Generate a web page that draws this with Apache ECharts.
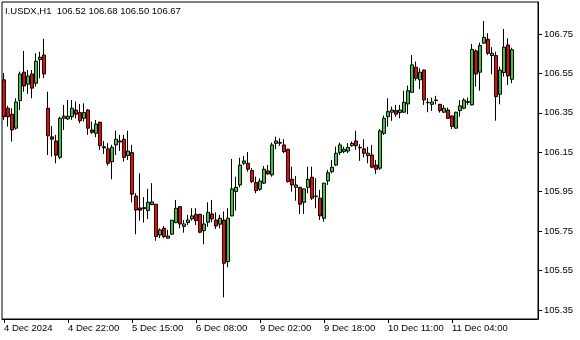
<!DOCTYPE html>
<html>
<head>
<meta charset="utf-8">
<script src="https://cdn.jsdelivr.net/npm/echarts@6/dist/echarts.min.js"></script>
<style>
html,body{margin:0;padding:0;background:#fff;}
#chart{width:580px;height:340px;}
</style>
</head>
<body>
<div id="chart"></div>
<script>
const symbolTitle = 'I.USDX,H1  106.52 106.68 106.50 106.67';
const lastPrice = 106.67;
const tickLabels = ['4 Dec 2024','4 Dec 22:00','5 Dec 15:00','6 Dec 08:00','9 Dec 02:00','9 Dec 18:00','10 Dec 11:00','11 Dec 04:00'];
const tickBars = [0,16,32,48,64,80,96,112];
const priceTicks = [105.35,105.55,105.75,105.95,106.15,106.35,106.55,106.75];
const totalSlots = 134;

const opens = [106.517,106.373,106.343,106.272,106.412,106.556,106.495,106.547,106.500,106.620,106.643,106.373,106.228,106.207,106.124,106.322,106.319,106.330,106.364,106.351,
106.322,106.364,106.263,106.246,106.302,106.178,106.167,106.102,106.187,106.207,106.216,106.133,106.148,105.928,105.867,105.869,105.854,105.884,105.886,105.730,
105.764,105.714,105.734,105.793,105.874,105.774,105.793,105.812,105.835,105.835,105.752,105.795,105.837,105.806,105.785,105.806,105.595,105.827,105.950,105.984,
106.094,106.094,106.057,105.996,105.962,105.993,106.055,106.035,106.195,106.199,106.187,106.165,106.013,105.972,105.972,105.896,105.972,106.023,105.928,105.917,
105.815,106.004,106.051,106.085,106.148,106.153,106.156,106.183,106.207,106.175,106.167,106.133,106.136,106.085,106.069,106.246,106.330,106.353,106.361,106.351,
106.353,106.395,106.454,106.581,106.517,106.567,106.403,106.393,106.412,106.393,106.353,106.364,106.334,106.272,106.361,106.373,106.403,106.390,106.664,106.556,
106.703,106.723,106.640,106.640,106.444,106.554,106.694,106.52];

const closes = [106.330,106.330,106.263,106.405,106.547,106.486,106.537,106.475,106.612,106.632,106.547,106.233,106.216,106.135,106.322,106.333,106.333,106.373,106.343,106.310,
106.351,106.272,106.251,106.293,106.183,106.172,106.094,106.175,106.216,106.202,106.124,106.156,105.937,105.857,105.856,105.864,105.896,105.898,105.722,105.756,
105.722,105.725,105.805,105.866,105.786,105.786,105.806,105.827,105.803,105.744,105.786,105.845,105.812,105.776,105.815,105.587,105.815,105.964,105.972,106.085,
106.106,106.064,106.001,105.955,106.004,106.064,106.040,106.187,106.207,106.196,106.153,106.001,105.984,105.984,105.886,105.964,106.013,105.917,105.925,105.827,
105.993,106.046,106.074,106.145,106.187,106.165,106.175,106.195,106.183,106.172,106.145,106.145,106.074,106.064,106.258,106.322,106.356,106.364,106.343,106.364,
106.403,106.462,106.593,106.525,106.556,106.415,106.401,106.405,106.415,106.361,106.373,106.322,106.280,106.353,106.385,106.415,106.407,106.672,106.547,106.691,
106.733,106.652,106.652,106.432,106.567,106.683,106.537,106.67];

const lows = [106.314,106.280,106.204,106.265,106.364,106.457,106.446,106.424,106.483,106.525,106.525,106.136,106.128,106.094,106.115,106.263,106.314,106.314,106.322,106.297,
106.305,106.238,106.243,106.226,106.162,106.141,106.082,106.013,106.136,106.156,106.102,106.111,105.896,105.734,105.803,105.793,105.811,105.882,105.701,105.714,
105.714,105.712,105.731,105.790,105.764,105.742,105.781,105.803,105.781,105.739,105.683,105.772,105.795,105.761,105.764,105.414,105.566,105.825,105.854,105.972,
106.085,106.052,105.993,105.942,105.954,105.989,106.035,106.026,106.165,106.182,106.145,105.996,105.950,105.904,105.837,105.837,105.942,105.908,105.866,105.806,
105.798,105.984,106.043,106.080,106.136,106.145,106.145,106.178,106.162,106.106,106.124,106.094,106.069,106.040,106.060,106.238,106.280,106.309,106.330,106.322,
106.350,106.343,106.452,106.513,106.471,106.390,106.353,106.359,106.393,106.351,106.349,106.319,106.268,106.270,106.330,106.368,106.390,106.388,106.483,106.462,
106.701,106.643,106.546,106.310,106.393,106.533,106.491,106.50];

const highs = [106.552,106.385,106.373,106.424,106.559,106.664,106.567,106.567,106.652,106.660,106.725,106.457,106.283,106.238,106.330,106.390,106.415,106.415,106.407,106.395,
106.398,106.368,106.305,106.314,106.305,106.207,106.196,106.187,106.259,106.238,106.238,106.259,106.187,105.942,106.043,105.922,105.964,105.993,105.888,105.764,
105.776,105.756,105.806,105.908,105.876,105.806,105.832,105.866,105.866,105.837,105.832,105.896,105.908,105.845,105.832,105.849,105.866,106.116,106.026,106.122,
106.131,106.151,106.069,106.026,106.018,106.080,106.085,106.199,106.229,106.221,106.216,106.167,106.077,106.030,105.974,105.965,106.077,106.077,106.018,105.959,
105.994,106.060,106.111,106.178,106.199,106.178,106.196,106.204,106.259,106.190,106.216,106.178,106.187,106.111,106.268,106.336,106.424,106.381,106.390,106.390,
106.462,106.488,106.643,106.610,106.576,106.569,106.424,106.427,106.436,106.395,106.390,106.376,106.336,106.355,106.415,106.424,106.427,106.699,106.672,106.706,
106.816,106.754,106.683,106.660,106.584,106.775,106.728,106.68];

const categories = [];
for (let i = 0; i < totalSlots; i++) {
  const k = tickBars.indexOf(i);
  categories.push(k >= 0 ? tickLabels[k] : '');
}
const candleData = opens.map((o, i) => [o, closes[i], lows[i], highs[i]]);

const FONT = 'Liberation Sans';
const chart = echarts.init(document.getElementById('chart'), null, {renderer: 'canvas'});
chart.setOption({
  animation: false,
  backgroundColor: '#ffffff',
  grid: {left: 2, top: 2, right: 42, bottom: 21, show: true, borderColor: '#000', borderWidth: 1, backgroundColor: 'transparent'},
  graphic: [{
    type: 'text', left: 5, top: 6,
    style: {text: symbolTitle, fontSize: 9.5, fontFamily: FONT, fill: '#000'}
  }],
  xAxis: {
    type: 'category',
    data: categories,
    boundaryGap: true,
    axisLine: {show: true, lineStyle: {color: '#000', width: 1}},
    axisTick: {show: true, alignWithLabel: true, length: 4, lineStyle: {color: '#000'},
      interval: (i) => tickBars.indexOf(i) >= 0},
    axisLabel: {show: true, interval: (i) => tickBars.indexOf(i) >= 0, align: 'left', margin: 4,
      fontSize: 9.5, fontFamily: FONT, color: '#000'},
    splitLine: {show: false}
  },
  yAxis: {
    type: 'value',
    position: 'right',
    min: 105.304,
    max: 106.912,
    scale: true,
    axisLine: {show: true, lineStyle: {color: '#000', width: 1}},
    axisTick: {show: true, length: 4, lineStyle: {color: '#000'}, customValues: priceTicks},
    axisLabel: {show: true, margin: 6, fontSize: 9.5, fontFamily: FONT, color: '#000',
      customValues: priceTicks, formatter: (v) => v.toFixed(2)},
    splitLine: {show: false}
  },
  series: [{
    type: 'candlestick',
    data: candleData,
    barWidth: 3,
    itemStyle: {
      color: '#32cd32', color0: '#ff0000',
      borderColor: '#000', borderColor0: '#000', borderWidth: 1
    },
    markLine: {
      silent: true,
      symbol: 'none',
      lineStyle: {opacity: 0},
      data: [{yAxis: lastPrice}],
      label: {
        show: true, position: 'end', distance: 3,
        formatter: lastPrice.toFixed(2),
        backgroundColor: '#000', color: '#fff',
        fontSize: 9.5, fontFamily: FONT, padding: [1, 3, 0, 3]
      }
    }
  }]
});
</script>
</body>
</html>
